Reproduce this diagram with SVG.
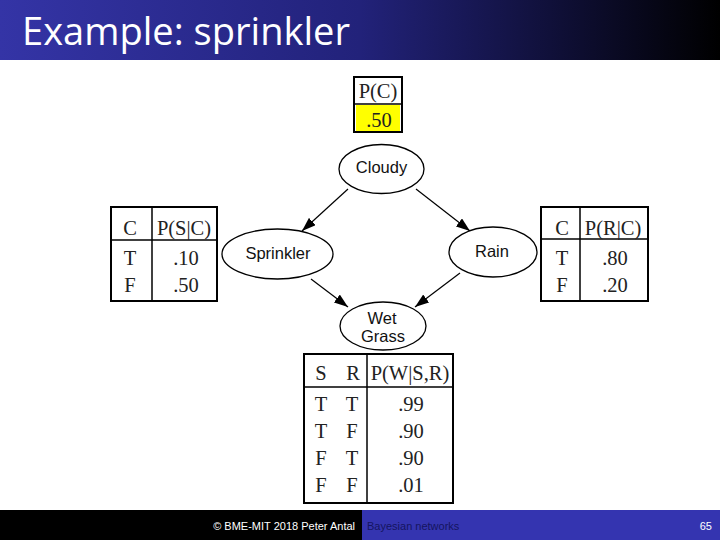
<svg xmlns="http://www.w3.org/2000/svg" width="720" height="540" viewBox="0 0 720 540">
<defs>
<linearGradient id="tg" x1="0" y1="0" x2="1" y2="0">
<stop offset="0" stop-color="#3434a6"/>
<stop offset="0.5" stop-color="#22227a"/>
<stop offset="1" stop-color="#000000"/>
</linearGradient>
<marker id="ah" viewBox="0 0 14 10" refX="14" refY="5" markerWidth="14" markerHeight="10" markerUnits="userSpaceOnUse" orient="auto">
<path d="M0,0 L14,5 L0,10 Z" fill="#000"/>
</marker>
<style>
.node ellipse{fill:#fff;stroke:#000;stroke-width:1.3}
.nl{font-family:"Liberation Sans",Arial,sans-serif;font-size:16.5px;fill:#111;text-anchor:middle}
.tb{fill:#fff;stroke:#000;stroke-width:2}
.ln{stroke:#000;stroke-width:1.5}
.tt{font-family:"Liberation Serif","Times New Roman",serif;font-size:20.5px;fill:#222;text-anchor:middle}
.edge{stroke:#000;stroke-width:1.2;fill:none;marker-end:url(#ah)}
</style>
</defs>
<rect x="0" y="0" width="720" height="540" fill="#fff"/>
<g id="title">
<rect x="0" y="0" width="720" height="60" fill="url(#tg)"/>
<text x="22" y="45" font-family="'Open Sans','Liberation Sans',sans-serif" font-size="38" fill="#fff" textLength="328" lengthAdjust="spacingAndGlyphs">Example: sprinkler</text>
</g>
<g id="footer">
<rect x="0" y="510" width="362" height="30" fill="#000"/>
<rect x="362" y="510" width="358" height="30" fill="#3434b0"/>
<text x="355" y="530" font-family="'Liberation Sans',sans-serif" font-size="11" fill="#fff" text-anchor="end">© BME-MIT 2018 Peter Antal</text>
<text x="367" y="530" font-family="'Liberation Sans',sans-serif" font-size="11" fill="#141460">Bayesian networks</text>
<text x="712" y="530" font-family="'Liberation Sans',sans-serif" font-size="11" fill="#fff" text-anchor="end">65</text>
</g>
<g id="connectors">
<line class="edge" x1="348" y1="189" x2="302" y2="231"/>
<line class="edge" x1="416" y1="189" x2="470" y2="231"/>
<line class="edge" x1="311" y1="279" x2="348" y2="307"/>
<line class="edge" x1="460" y1="273" x2="415" y2="307"/>
</g>
<g id="cloudy" class="node">
<ellipse cx="381.5" cy="169" rx="42.5" ry="24.5"/>
<text class="nl" x="381.5" y="173">Cloudy</text>
</g>
<g id="sprinkler" class="node">
<ellipse cx="277.5" cy="254" rx="55.5" ry="25"/>
<text class="nl" x="278" y="259">Sprinkler</text>
</g>
<g id="rain" class="node">
<ellipse cx="493" cy="252" rx="44" ry="25"/>
<text class="nl" x="492" y="257">Rain</text>
</g>
<g id="wetgrass" class="node">
<ellipse cx="383" cy="326" rx="43" ry="24"/>
<text class="nl" x="382" y="324">Wet</text>
<text class="nl" x="383" y="342">Grass</text>
</g>
<g id="table-pc">
<rect class="tb" x="354" y="77" width="48" height="55"/>
<rect x="356" y="105" width="44" height="26" fill="#ffff00"/>
<line class="ln" x1="354" y1="104" x2="402" y2="104"/>
<text class="tt" x="378" y="98">P(C)</text>
<text class="tt" x="379" y="127">.50</text>
</g>
<g id="table-ps">
<rect class="tb" x="111" y="207" width="106" height="94"/>
<line class="ln" x1="152" y1="207" x2="152" y2="301"/>
<line class="ln" x1="111" y1="240" x2="217" y2="240"/>
<text class="tt" x="130" y="235">C</text>
<text class="tt" x="184" y="235">P(S|C)</text>
<text class="tt" x="130" y="265">T</text>
<text class="tt" x="130" y="292">F</text>
<text class="tt" x="186" y="265">.10</text>
<text class="tt" x="186" y="292">.50</text>
</g>
<g id="table-pr">
<rect class="tb" x="541" y="207" width="107" height="94"/>
<line class="ln" x1="580" y1="207" x2="580" y2="301"/>
<line class="ln" x1="541" y1="239" x2="648" y2="239"/>
<text class="tt" x="562" y="235">C</text>
<text class="tt" x="613" y="235">P(R|C)</text>
<text class="tt" x="562" y="265">T</text>
<text class="tt" x="562" y="292">F</text>
<text class="tt" x="615" y="265">.80</text>
<text class="tt" x="615" y="292">.20</text>
</g>
<g id="table-pw">
<rect class="tb" x="304" y="354" width="149" height="149"/>
<line class="ln" x1="367" y1="354" x2="367" y2="503"/>
<line class="ln" x1="304" y1="387" x2="453" y2="387"/>
<text class="tt" x="321" y="380">S</text>
<text class="tt" x="353" y="380">R</text>
<text class="tt" x="410" y="380">P(W|S,R)</text>
<text class="tt" x="321" y="411">T</text><text class="tt" x="352" y="411">T</text><text class="tt" x="411" y="411">.99</text>
<text class="tt" x="321" y="438">T</text><text class="tt" x="352" y="438">F</text><text class="tt" x="411" y="438">.90</text>
<text class="tt" x="321" y="465">F</text><text class="tt" x="352" y="465">T</text><text class="tt" x="411" y="465">.90</text>
<text class="tt" x="321" y="492">F</text><text class="tt" x="352" y="492">F</text><text class="tt" x="411" y="492">.01</text>
</g>
</svg>
